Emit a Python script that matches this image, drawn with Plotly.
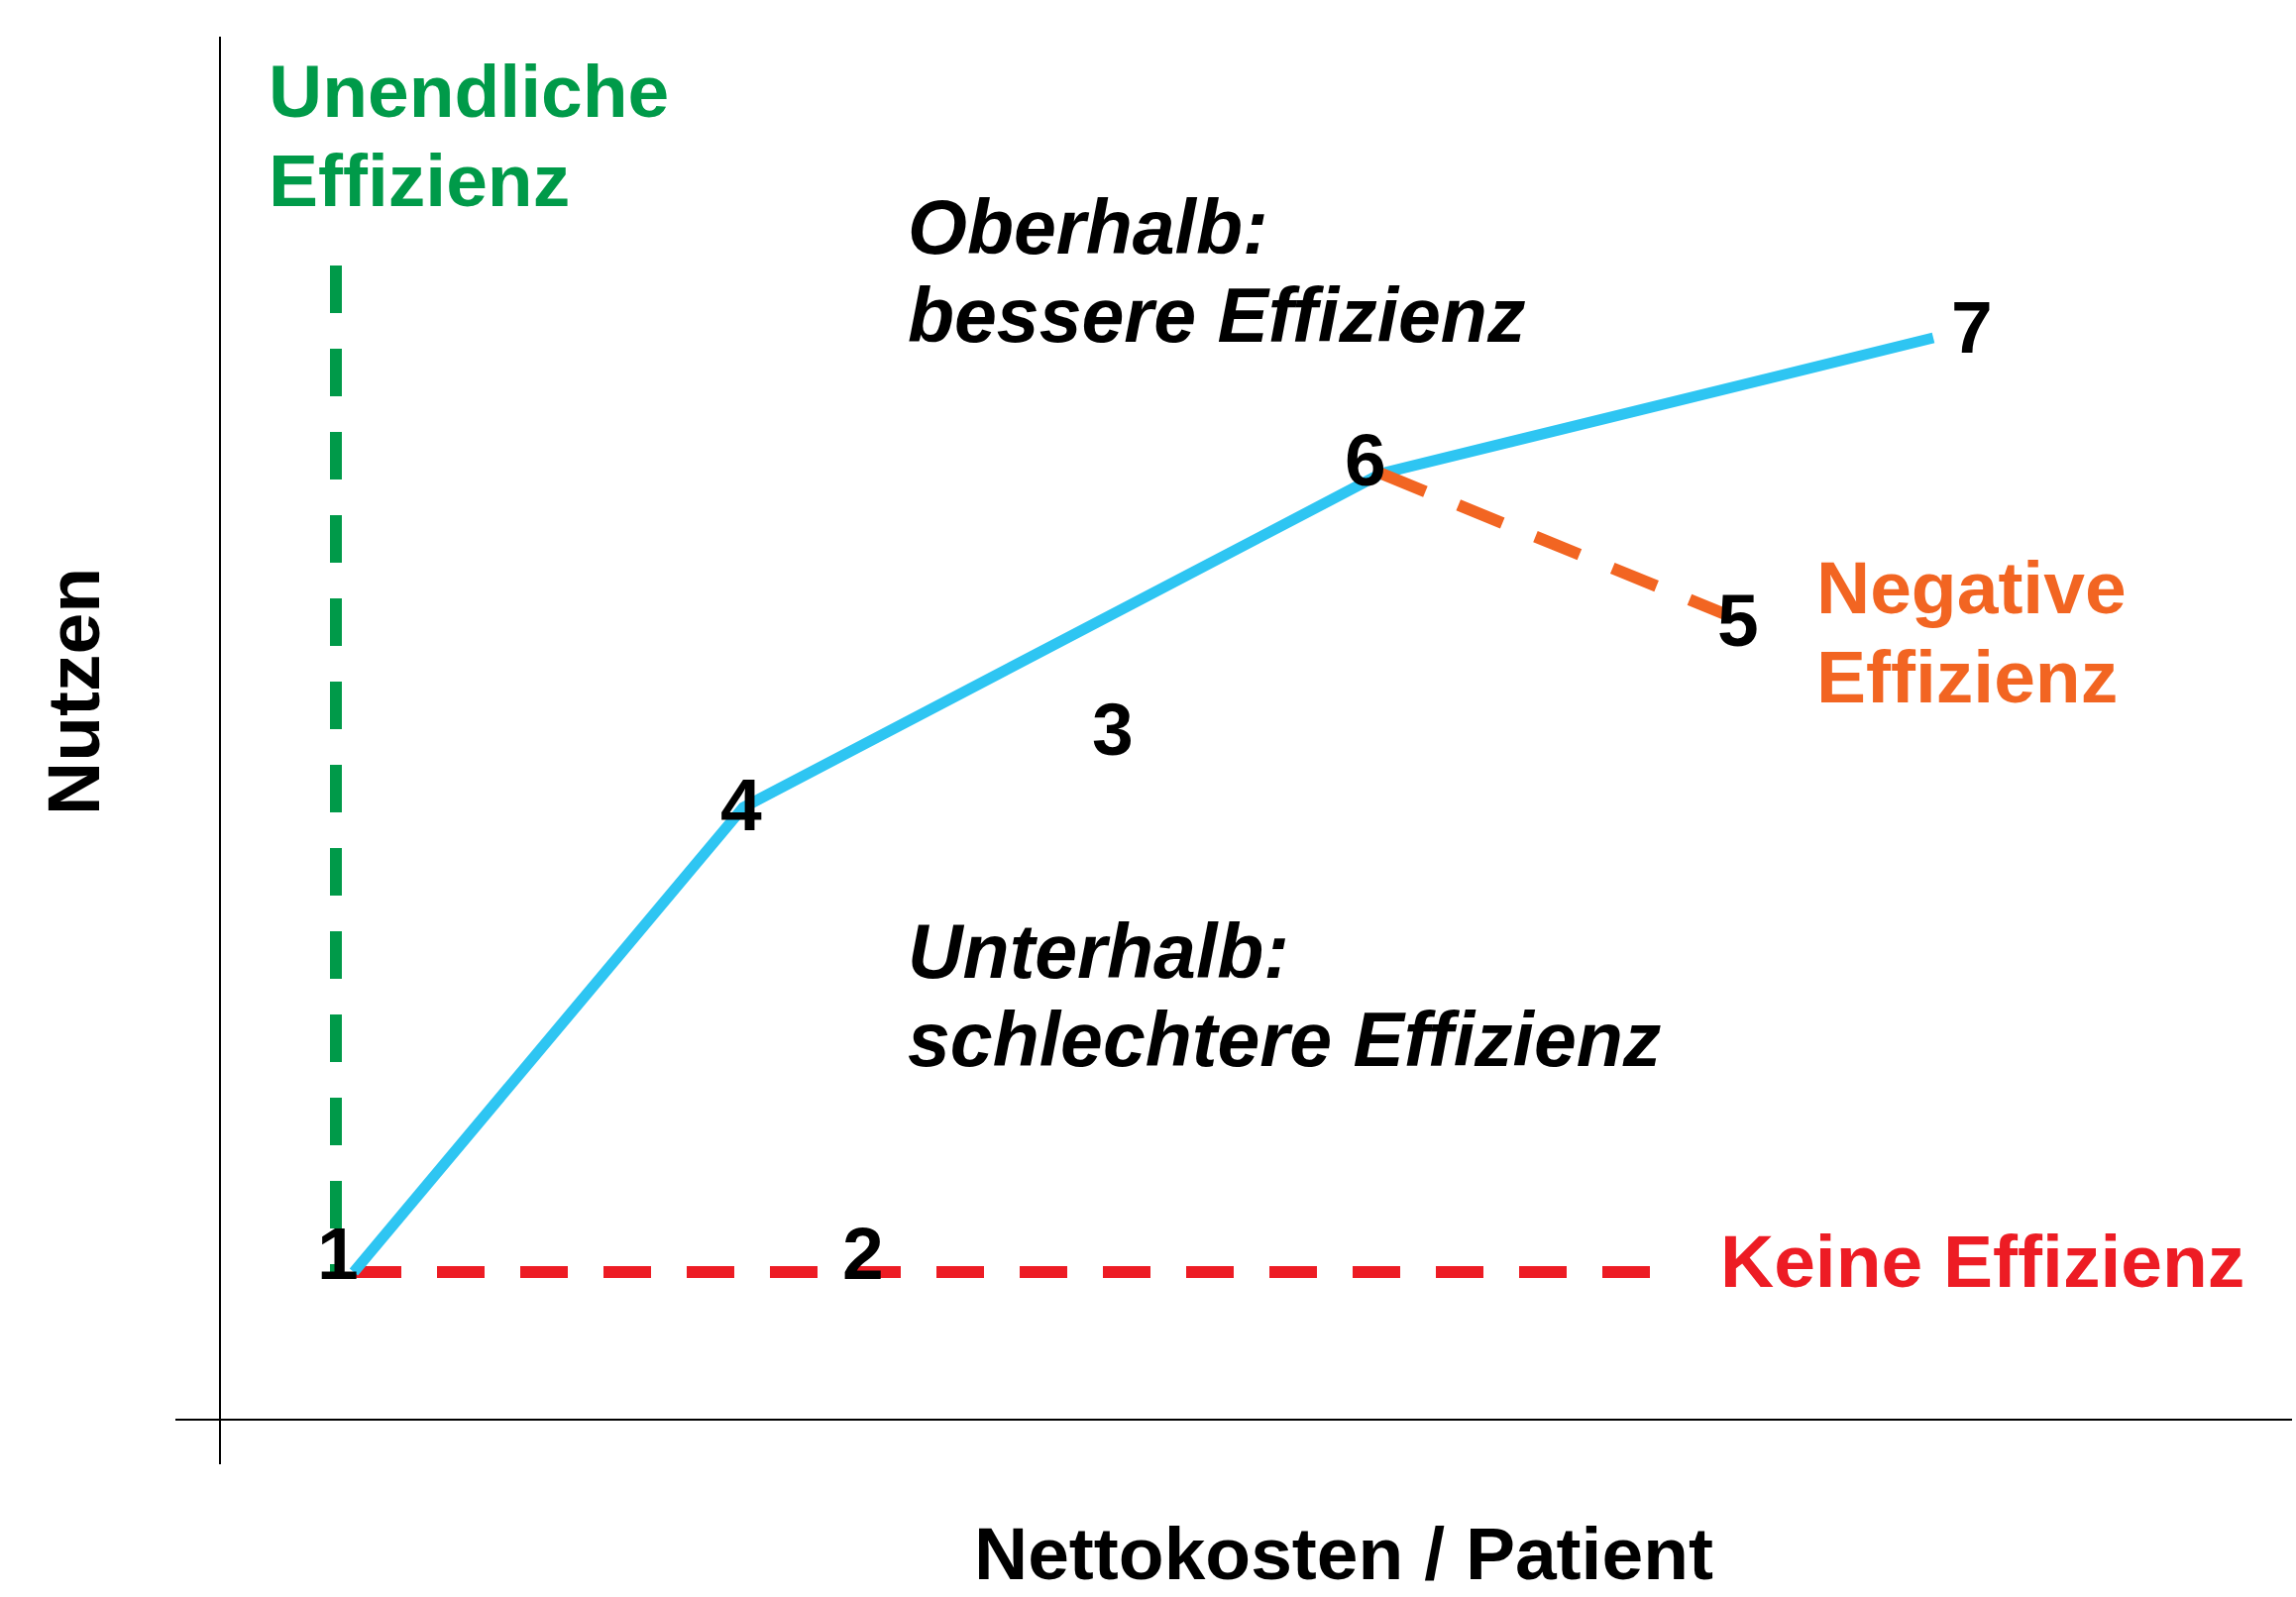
import plotly.graph_objects as go

# ---- data (arbitrary units: Nettokosten / Patient vs. Nutzen) ----
point_labels = ["1", "2", "3", "4", "5", "6", "7"]
point_cost = [6.75, 32.45, 45.05, 26.4, 75.95, 58.6, 86.45]
point_benefit = [7.45, 8.4, 34.85, 30.9, 40.65, 47.75, 54.6]

frontier_points = ["1", "4", "6", "7"]          # efficiency frontier (blue)
negative_points = ["6", "5"]                    # negative efficiency (orange)
no_eff_cost = [6.75, 72.4]                      # no efficiency (red)
no_eff_benefit = [7.45, 7.45]
inf_eff_cost = [5.85, 5.85]                     # infinite efficiency (green)
inf_eff_benefit = [58.25, 7.15]

# ---- styles ----
GREEN = "#009A49"
BLUE = "#2EC5F2"
ORANGE = "#F26522"
RED = "#ED1C24"
FONT = "Liberation Sans, Arial, sans-serif"
FS = 75
FS_IT = 77
DASH = "48px,36px"

label_shift = {"1": (-16, 19), "2": (0, 0), "3": (0, 0), "4": (-2, 3),
               "5": (13, -6), "6": (-16, 14), "7": (39, 11)}

idx = {lab: i for i, lab in enumerate(point_labels)}

fig = go.Figure()

fig.add_trace(go.Scatter(x=inf_eff_cost, y=inf_eff_benefit, mode="lines",
                         line=dict(color=GREEN, width=12, dash=DASH),
                         hoverinfo="skip"))
fig.add_trace(go.Scatter(x=no_eff_cost, y=no_eff_benefit, mode="lines",
                         line=dict(color=RED, width=12, dash=DASH),
                         hoverinfo="skip"))
fig.add_trace(go.Scatter(x=[point_cost[idx[p]] for p in frontier_points],
                         y=[point_benefit[idx[p]] for p in frontier_points],
                         mode="lines", line=dict(color=BLUE, width=11),
                         hoverinfo="skip"))
fig.add_trace(go.Scatter(x=[point_cost[idx[p]] for p in negative_points],
                         y=[point_benefit[idx[p]] for p in negative_points],
                         mode="lines",
                         line=dict(color=ORANGE, width=12, dash=DASH),
                         hoverinfo="skip"))

annotations = []
for lab, cx, cy in zip(point_labels, point_cost, point_benefit):
    dx, dy = label_shift[lab]
    annotations.append(dict(x=cx, y=cy, xref="x", yref="y", text=f"<b>{lab}</b>",
                            showarrow=False, xshift=dx, yshift=dy,
                            xanchor="center", yanchor="middle",
                            font=dict(family=FONT, size=FS, color="black")))


def txt(text, x, y, color, italic=False):
    t = f"<b>{text}</b>"
    if italic:
        t = f"<i>{t}</i>"
    return dict(x=x, y=y, xref="x", yref="y", text=t, showarrow=False,
                xanchor="left", yanchor="middle",
                font=dict(family=FONT, size=FS_IT if italic else FS, color=color))


annotations += [
    txt("Unendliche", 2.35, 67.05, GREEN),
    txt("Effizienz", 2.35, 62.55, GREEN),
    txt("Oberhalb:", 34.6, 60.2, "black", italic=True),
    txt("bessere Effizienz", 34.6, 55.75, "black", italic=True),
    txt("Unterhalb:", 34.6, 23.65, "black", italic=True),
    txt("schlechtere Effizienz", 34.6, 19.2, "black", italic=True),
    txt("Negative", 80.45, 42.0, ORANGE),
    txt("Effizienz", 80.45, 37.5, ORANGE),
    txt("Keine Effizienz", 75.6, 8.0, RED),
    dict(x=0.552, y=-0.0625, xref="paper", yref="paper",
         text="<b>Nettokosten / Patient</b>", showarrow=False,
         xanchor="center", yanchor="middle",
         font=dict(family=FONT, size=FS, color="black")),
    dict(x=-0.0482, y=0.5413, xref="paper", yref="paper",
         text="<b>Nutzen</b>", showarrow=False, textangle=-90,
         xanchor="center", yanchor="middle",
         font=dict(family=FONT, size=FS, color="black")),
]

axis_common = dict(showgrid=False, showticklabels=False, ticks="",
                   zeroline=True, zerolinecolor="black", zerolinewidth=2,
                   showline=False, fixedrange=True)

fig.update_layout(
    width=2317, height=1612,
    margin=dict(l=177, r=4, t=37, b=134),
    paper_bgcolor="white", plot_bgcolor="white",
    showlegend=False,
    xaxis=dict(range=[-2.25, 104.55], **axis_common),
    yaxis=dict(range=[-2.25, 69.8], **axis_common),
    annotations=annotations,
)

fig.write_html(
    "out.html",
    config={"displayModeBar": False},
    post_script="document.body.style.margin='0px';document.body.style.overflow='hidden';",
)
